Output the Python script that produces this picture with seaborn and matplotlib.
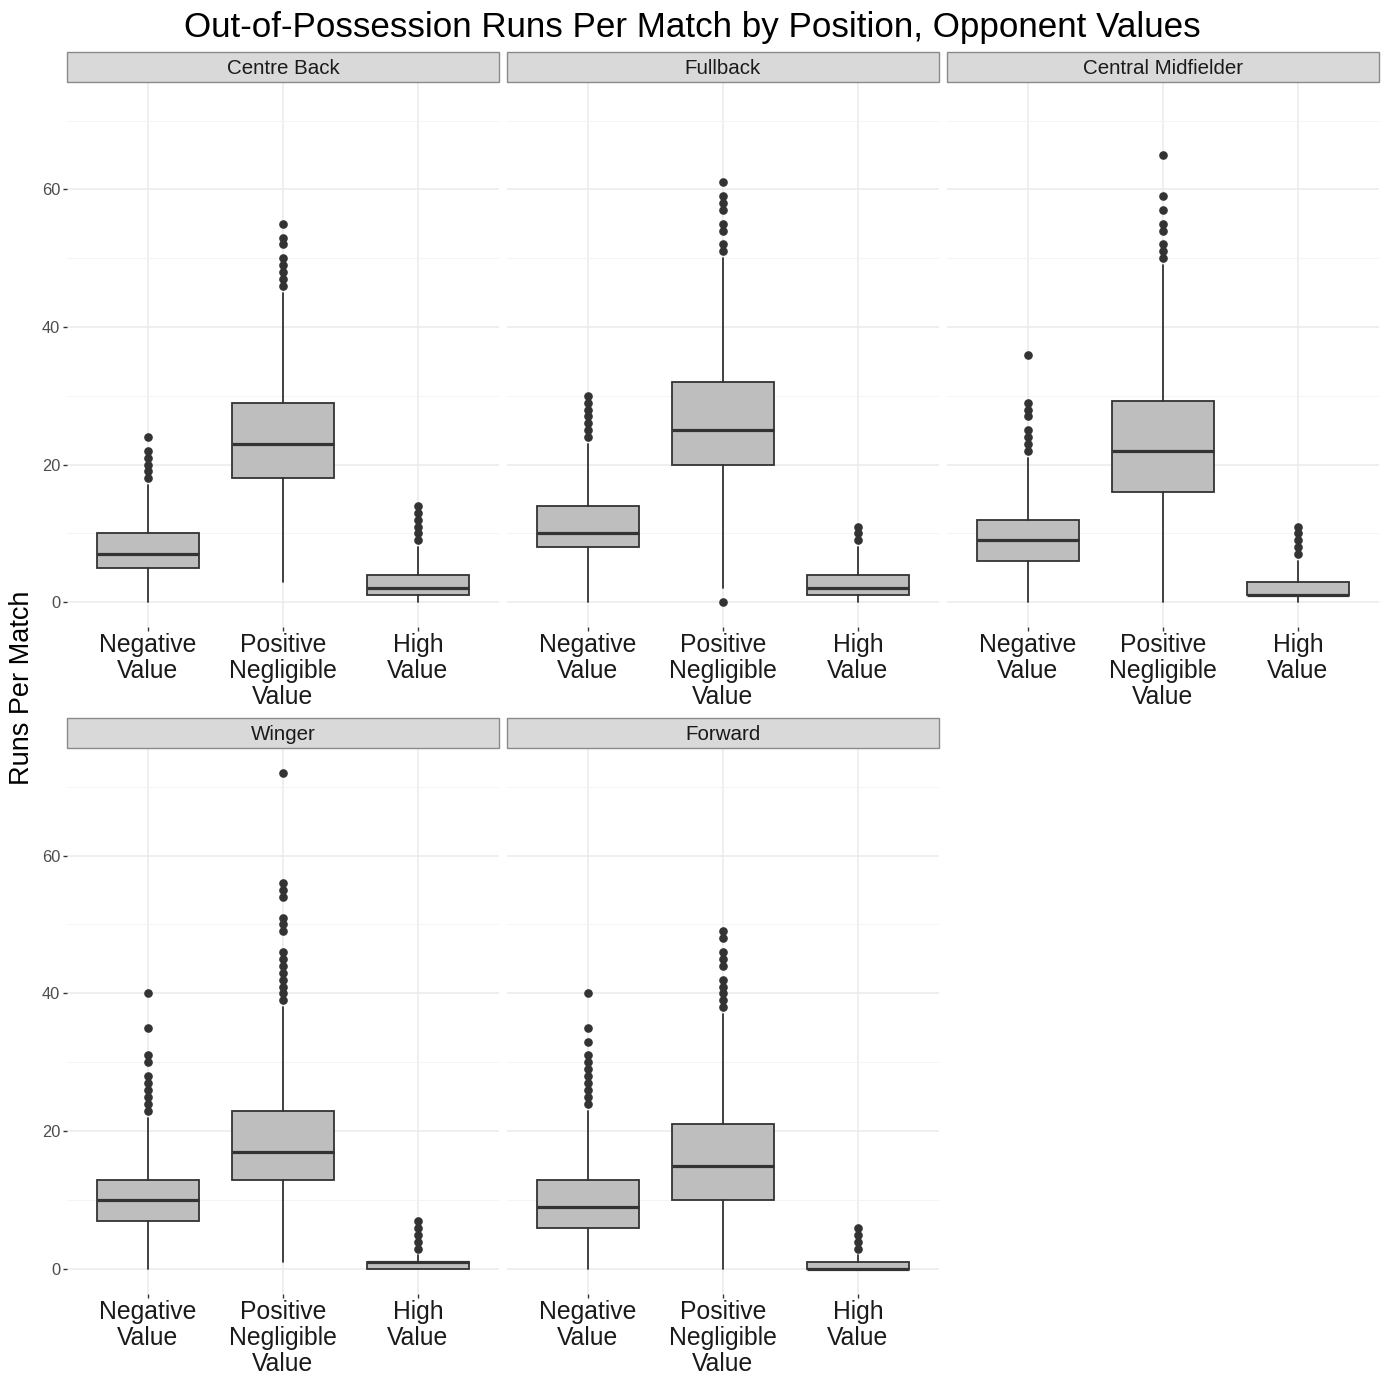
import matplotlib
matplotlib.use("Agg")
import matplotlib.pyplot as plt
from matplotlib.patches import Rectangle
from matplotlib.ticker import FixedLocator
import seaborn as sns
import pandas as pd

# ---- data -------------------------------------------------------------
positions = ["Centre Back", "Fullback", "Central Midfielder", "Winger", "Forward"]
categories = ["Negative\nValue", "Positive\nNegligible\nValue", "High\nValue"]

# box statistics per position, in category order (Negative, Positive Negligible, High)
q1 = {
    "Centre Back":        [5, 18, 1],
    "Fullback":           [8, 20, 1],
    "Central Midfielder": [6, 16, 1],
    "Winger":             [7, 13, 0],
    "Forward":            [6, 10, 0],
}
median = {
    "Centre Back":        [7, 23, 2],
    "Fullback":           [10, 25, 2],
    "Central Midfielder": [9, 22, 1],
    "Winger":             [10, 17, 1],
    "Forward":            [9, 15, 0],
}
q3 = {
    "Centre Back":        [10, 29, 4],
    "Fullback":           [14, 32, 4],
    "Central Midfielder": [12, 29.25, 3],
    "Winger":             [13, 23, 1],
    "Forward":            [13, 21, 1],
}
whisker_low = {
    "Centre Back":        [0, 3, 0],
    "Fullback":           [0, 2, 0],
    "Central Midfielder": [0, 0, 0],
    "Winger":             [0, 1, 0],
    "Forward":            [0, 0, 0],
}
whisker_high = {
    "Centre Back":        [17, 45, 8],
    "Fullback":           [23, 50, 8],
    "Central Midfielder": [21, 49, 6],
    "Winger":             [22, 38, 2],
    "Forward":            [23, 37, 2],
}
outliers = {
    "Centre Back": [
        [18, 19, 20, 21, 22, 24],
        [46, 47, 48, 49, 50, 52, 53, 55],
        [9, 10, 11, 12, 13, 14],
    ],
    "Fullback": [
        [24, 25, 26, 27, 28, 29, 30],
        [0, 51, 52, 54, 55, 57, 58, 59, 61],
        [9, 10, 11],
    ],
    "Central Midfielder": [
        [22, 23, 24, 25, 27, 28, 29, 36],
        [50, 51, 52, 54, 55, 57, 59, 65],
        [7, 8, 9, 10, 11],
    ],
    "Winger": [
        [23, 24, 25, 26, 27, 28, 30, 31, 35, 40],
        [39, 40, 41, 42, 43, 44, 45, 46, 49, 50, 51, 54, 55, 56, 72],
        [3, 4, 5, 6, 7],
    ],
    "Forward": [
        [24, 25, 26, 27, 28, 29, 30, 31, 33, 35, 40],
        [38, 39, 40, 41, 42, 44, 45, 46, 48, 49],
        [3, 4, 5, 6],
    ],
}

y_ticks = [0, 20, 40, 60]
y_minor = [10, 30, 50, 70]

# ---- tidy table of summary statistics --------------------------------
rows = []
for pos in positions:
    for i, cat in enumerate(categories):
        rows.append(dict(position=pos, category=cat, x=i + 1,
                         q1=q1[pos][i], med=median[pos][i], q3=q3[pos][i],
                         whislo=whisker_low[pos][i], whishi=whisker_high[pos][i],
                         fliers=outliers[pos][i]))
stats = pd.DataFrame(rows)

# ---- style -------------------------------------------------------------
sns.set_theme(style="white")
plt.rcParams["font.family"] = ["Liberation Sans", "DejaVu Sans"]

W, H, DPI = 1385, 1375, 100
FILL = "#BEBEBE"
INK = "#333333"


def draw_boxes(data, **kws):
    ax = plt.gca()
    bstats = [dict(q1=r.q1, med=r.med, q3=r.q3, whislo=r.whislo,
                   whishi=r.whishi, fliers=list(r.fliers), label="")
              for r in data.itertuples()]
    ax.bxp(bstats, positions=list(data["x"]), widths=0.75,
           patch_artist=True, showcaps=False, zorder=3,
           boxprops=dict(facecolor=FILL, edgecolor=INK, linewidth=1.3),
           medianprops=dict(color=INK, linewidth=2.3),
           whiskerprops=dict(color=INK, linewidth=1.3),
           flierprops=dict(marker="o", markerfacecolor=INK,
                           markeredgecolor=INK, markersize=5.2))


g = sns.FacetGrid(stats, col="position", col_order=positions, col_wrap=3,
                  sharex=False, sharey=True, height=4, aspect=1)
g.map_dataframe(draw_boxes)
g.set_titles("")
g.set_axis_labels("", "")
fig = g.figure
fig.set_size_inches(W / DPI, H / DPI)
fig.set_dpi(DPI)

col_x = [67, 507, 947]
panel_w = 432
row_top = [82, 748]
row_bot = [627, 1294]

for k, (pos, ax) in enumerate(zip(positions, g.axes.flat)):
    r, c = divmod(k, 3)
    left = col_x[c] / W
    bottom = 1 - row_bot[r] / H
    height = (row_bot[r] - row_top[r]) / H
    ax.set_position([left, bottom, panel_w / W, height])

    ax.set_facecolor("white")
    for s in ax.spines.values():
        s.set_visible(False)
    ax.set_xlim(0.4, 3.6)
    ax.set_ylim(-3.6, 75.6)

    ax.set_xticks([1, 2, 3])
    ax.set_xticklabels(categories, fontsize=17.8, color="#1A1A1A",
                       linespacing=1.1)
    ax.tick_params(axis="x", bottom=True, length=3, width=1.0,
                   color=INK, pad=1.5, labelbottom=True)

    ax.yaxis.set_major_locator(FixedLocator(y_ticks))
    ax.yaxis.set_minor_locator(FixedLocator(y_minor))
    if c == 0:
        ax.tick_params(axis="y", left=True, length=3, width=1.0, color=INK,
                       pad=2, labelsize=11.8, labelcolor="#4D4D4D",
                       labelleft=True)
    else:
        ax.tick_params(axis="y", left=False, labelleft=False)
    ax.tick_params(axis="y", which="minor", left=False)

    ax.grid(True, which="major", axis="both", color="#EBEBEB", linewidth=1.1,
            zorder=0)
    ax.grid(True, which="minor", axis="y", color="#F3F3F3", linewidth=0.6,
            zorder=0)
    ax.set_axisbelow(True)

    # strip above each panel
    strip_h = 30 / (row_bot[r] - row_top[r])
    ax.add_patch(Rectangle((0, 1), 1, strip_h, transform=ax.transAxes,
                           facecolor="#D9D9D9", edgecolor="#8A8A8A",
                           linewidth=1.0, clip_on=False, zorder=5))
    ax.text(0.5, 1 + strip_h / 2, pos, transform=ax.transAxes,
            ha="center", va="center_baseline", fontsize=14.8, color="#1A1A1A",
            zorder=6)

fig.text(0.5, 1 - 24 / H, "Out-of-Possession Runs Per Match by Position, Opponent Values",
         ha="center", va="center_baseline", fontsize=25.2, color="black")
fig.text(22 / W, 1 - 688 / H, "Runs Per Match", rotation=90,
         ha="center", va="center", fontsize=19.5, color="black")

fig.savefig("out.png", dpi=DPI, facecolor="white")
